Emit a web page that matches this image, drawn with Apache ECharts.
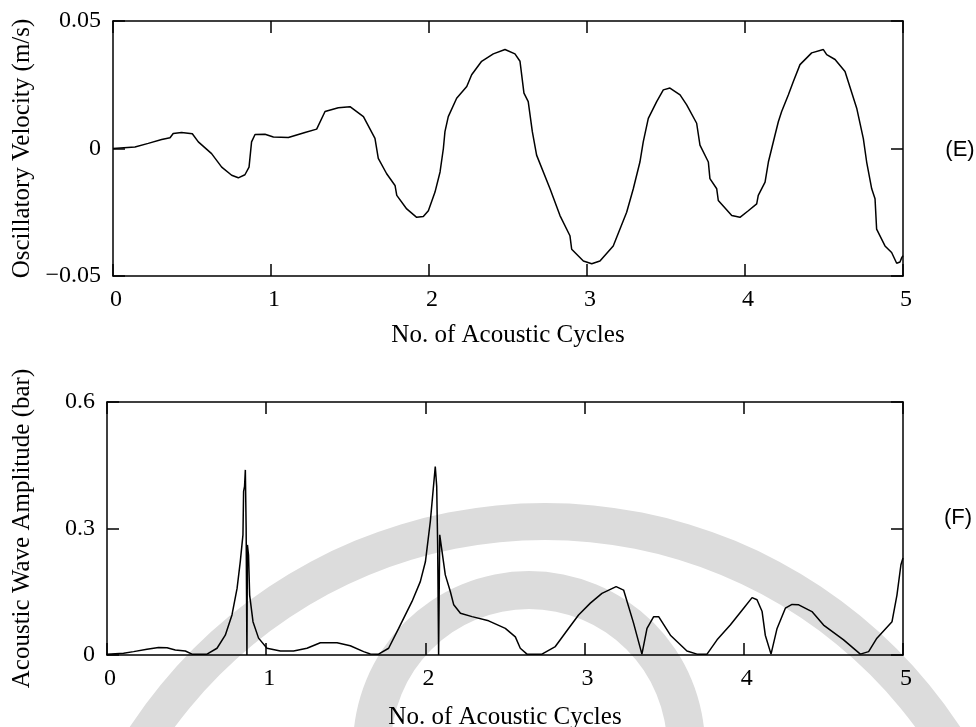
<!DOCTYPE html>
<html>
<head>
<meta charset="utf-8">
<script src="https://cdn.jsdelivr.net/npm/echarts@6/dist/echarts.min.js"></script>
<style>html,body{margin:0;padding:0;background:#fff}#c{width:976px;height:727px}</style>
</head>
<body>
<div id="c"></div>
<script>
// Panel (E): oscillatory velocity
var cyclesE = [0,0.139,0.223,0.308,0.361,0.381,0.434,0.502,0.540,0.624,0.688,0.751,0.793,0.835,0.861,0.877,0.899,0.962,1.015,1.110,1.215,1.289,1.342,1.426,1.500,1.585,1.658,1.679,1.732,1.785,1.796,1.859,1.922,1.964,1.996,2.038,2.070,2.091,2.101,2.122,2.175,2.239,2.270,2.333,2.407,2.481,2.544,2.576,2.601,2.628,2.654,2.681,2.766,2.829,2.892,2.903,2.977,3.030,3.082,3.166,3.251,3.293,3.335,3.356,3.388,3.441,3.483,3.525,3.589,3.631,3.694,3.715,3.768,3.778,3.821,3.831,3.916,3.968,4.021,4.074,4.084,4.127,4.148,4.169,4.190,4.211,4.232,4.274,4.306,4.348,4.422,4.496,4.517,4.570,4.633,4.707,4.749,4.770,4.802,4.823,4.833,4.886,4.928,4.960,4.981,4.992,5.0];
var velocityE = [0,0.0006,0.002,0.0035,0.0042,0.0059,0.0063,0.0058,0.0026,-0.002,-0.0073,-0.0105,-0.0115,-0.0103,-0.0073,0.0026,0.0055,0.0056,0.0045,0.0043,0.0063,0.0076,0.0145,0.016,0.0164,0.0125,0.004,-0.0039,-0.0099,-0.0145,-0.0184,-0.0237,-0.027,-0.0267,-0.0244,-0.0171,-0.0092,0,0.0066,0.0125,0.0197,0.0243,0.0289,0.0342,0.0371,0.0388,0.0371,0.0342,0.0217,0.0184,0.0066,-0.0026,-0.0158,-0.0263,-0.0342,-0.0395,-0.0441,-0.0452,-0.0441,-0.0382,-0.025,-0.0158,-0.0053,0.0026,0.0118,0.0184,0.023,0.0237,0.021,0.0171,0.0099,0.0013,-0.0053,-0.0118,-0.0158,-0.0204,-0.0263,-0.027,-0.0244,-0.0217,-0.0184,-0.0132,-0.0053,0,0.0053,0.0105,0.0145,0.021,0.0263,0.0329,0.0375,0.0388,0.0368,0.0349,0.0302,0.0158,0.0039,-0.0053,-0.0158,-0.0197,-0.0316,-0.0382,-0.0408,-0.045,-0.0445,-0.0428,-0.042];

// Panel (F): acoustic wave amplitude
var cyclesF = [0,0.104,0.167,0.251,0.324,0.377,0.429,0.492,0.534,0.628,0.691,0.743,0.785,0.817,0.837,0.854,0.858,0.864,0.869,0.874,0.879,0.882,0.889,0.896,0.917,0.952,1.005,1.089,1.172,1.256,1.340,1.445,1.528,1.612,1.654,1.706,1.769,1.832,1.916,1.968,2.000,2.031,2.062,2.071,2.077,2.083,2.090,2.100,2.125,2.157,2.178,2.220,2.293,2.397,2.502,2.565,2.596,2.638,2.732,2.816,2.899,2.962,3.036,3.109,3.198,3.245,3.308,3.360,3.392,3.434,3.465,3.539,3.643,3.706,3.769,3.832,3.915,3.999,4.052,4.083,4.115,4.135,4.171,4.209,4.261,4.303,4.345,4.428,4.501,4.627,4.732,4.784,4.836,4.931,4.962,4.987,5.0];
var amplitudeF = [0.002,0.004,0.008,0.0135,0.018,0.017,0.012,0.0095,0.002,0.002,0.016,0.047,0.095,0.158,0.221,0.285,0.388,0.40,0.439,0.30,0.0,0.261,0.237,0.142,0.079,0.040,0.016,0.0095,0.0095,0.016,0.029,0.029,0.022,0.008,0.0025,0.002,0.016,0.063,0.127,0.174,0.221,0.317,0.447,0.40,0.26,0.0,0.285,0.281,0.190,0.150,0.119,0.099,0.091,0.081,0.063,0.043,0.016,0.002,0.002,0.020,0.063,0.095,0.123,0.146,0.162,0.154,0.075,0.002,0.063,0.091,0.091,0.047,0.0095,0.002,0.002,0.036,0.071,0.111,0.136,0.131,0.103,0.047,0.002,0.063,0.111,0.120,0.119,0.103,0.071,0.036,0.002,0.008,0.040,0.079,0.142,0.214,0.230];

var xTicks = ['0','1','2','3','4','5'];
var xTitle = 'No. of Acoustic Cycles';
var yTitleE = 'Oscillatory Velocity (m/s)';
var yTitleF = 'Acoustic Wave Amplitude (bar)';

function zip(a, b) { return a.map(function (v, i) { return [v, b[i]]; }); }

var SERIF = '"Liberation Serif", "Times New Roman", serif';
var axisLine = { show: true, onZero: false, lineStyle: { color: '#000', width: 1.5 } };
var tick = { show: true, inside: true, length: 12, lineStyle: { color: '#000', width: 1.5 } };

function xAx(gi, pos, labels, gap, margin) {
  return {
    type: 'value', gridIndex: gi, position: pos, min: 0, max: 5, interval: 1,
    axisLine: axisLine, axisTick: tick, splitLine: { show: false },
    axisLabel: labels ? { show: true, color: '#000', fontFamily: SERIF, fontSize: 24, margin: margin || 12, padding: [0, 0, 0, 6],
      formatter: function (v) { return xTicks[Math.round(v)]; } } : { show: false },
    name: labels ? xTitle : '', nameLocation: 'middle', nameGap: gap || 0,
    nameTextStyle: { color: '#000', fontFamily: SERIF, fontSize: 25 }
  };
}
function yAx(gi, pos, min, max, itv, fmt, name, gap) {
  return {
    type: 'value', gridIndex: gi, position: pos, min: min, max: max, interval: itv,
    axisLine: axisLine, axisTick: tick, splitLine: { show: false },
    axisLabel: fmt ? { show: true, color: '#000', fontFamily: SERIF, fontSize: 24, margin: 12, formatter: fmt } : { show: false },
    name: name || '', nameLocation: 'middle', nameGap: gap || 0,
    nameTextStyle: { color: '#000', fontFamily: SERIF, fontSize: 25 }
  };
}

var fmtE = function (v) {
  if (Math.abs(v) < 1e-9) return '0';
  return (v < 0 ? '\u22120' : '0') + '.05';
};
var fmtF = function (v) {
  if (Math.abs(v) < 1e-9) return '0';
  return v.toFixed(1);
};

var chart = echarts.init(document.getElementById('c'), null, { renderer: 'canvas' });
chart.setOption({
  animation: false,
  backgroundColor: '#fff',
  graphic: [
    { type: 'ring', silent: true, z: -100, shape: { cx: 545, cy: 1000, r: 497, r0: 460 }, style: { fill: '#dcdcdc' } },
    { type: 'ring', silent: true, z: -100, shape: { cx: 529, cy: 747, r: 176, r0: 138 }, style: { fill: '#dcdcdc' } },
    { type: 'text', silent: true, z: 10, style: { text: '(E)', x: 960, y: 150, textAlign: 'center', textVerticalAlign: 'middle', font: '22px "Liberation Sans", Arial, sans-serif', fill: '#000' } },
    { type: 'text', silent: true, z: 10, style: { text: '(F)', x: 958, y: 518, textAlign: 'center', textVerticalAlign: 'middle', font: '22px "Liberation Sans", Arial, sans-serif', fill: '#000' } }
  ],
  grid: [
    { left: 113, top: 21, width: 790, height: 255, containLabel: false, outerBoundsMode: 'none' },
    { left: 107, top: 402, width: 796, height: 253, containLabel: false, outerBoundsMode: 'none' }
  ],
  xAxis: [ xAx(0, 'bottom', true, 47, 12), xAx(0, 'top', false), xAx(1, 'bottom', true, 50, 12), xAx(1, 'top', false) ],
  yAxis: [
    yAx(0, 'left', -0.05, 0.05, 0.05, fmtE, yTitleE, 78),
    yAx(0, 'right', -0.05, 0.05, 0.05, null),
    yAx(1, 'left', 0, 0.6, 0.3, fmtF, yTitleF, 72),
    yAx(1, 'right', 0, 0.6, 0.3, null)
  ],
  series: [
    { type: 'line', xAxisIndex: 0, yAxisIndex: 0, data: zip(cyclesE, velocityE), showSymbol: false, symbol: 'none',
      lineStyle: { color: '#000', width: 1.5 }, z: 5 },
    { type: 'line', xAxisIndex: 2, yAxisIndex: 2, data: zip(cyclesF, amplitudeF), showSymbol: false, symbol: 'none',
      lineStyle: { color: '#000', width: 1.5 }, z: 5 }
  ]
});
</script>
</body>
</html>
